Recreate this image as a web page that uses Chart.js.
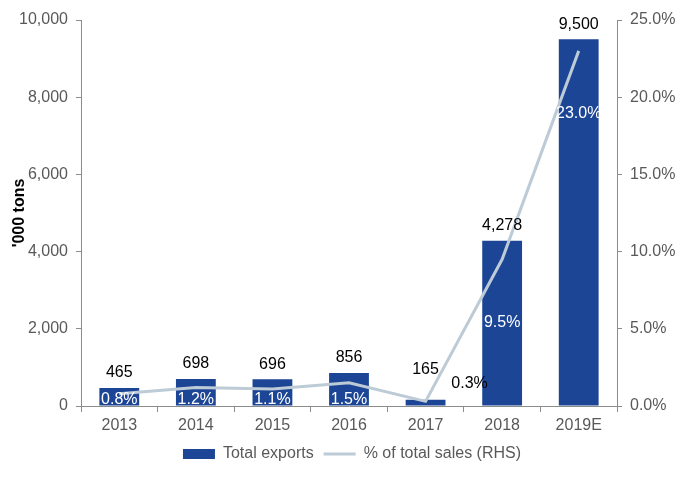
<!DOCTYPE html>
<html>
<head>
<meta charset="utf-8">
<script src="https://cdn.jsdelivr.net/npm/chart.js@4/dist/chart.umd.min.js"></script>
<style>
  html, body { margin: 0; padding: 0; background: #fff; }
  #wrap { width: 694px; height: 492px; }
</style>
</head>
<body>
<div id="wrap"><canvas id="myChart"></canvas></div>
<script>
const years = ['2013', '2014', '2015', '2016', '2017', '2018', '2019E'];
const totalExports = [465, 698, 696, 856, 165, 4278, 9500];
const pctOfSales = [0.8, 1.2, 1.1, 1.5, 0.3, 9.5, 23.0];

const barColor = '#1d4596';
const lineColor = '#bccbd6';
const tickColor = '#595959';
const axisColor = '#8c8c8c';
const fontFamily = '"Liberation Sans", Arial, sans-serif';

// draws the value labels above bars and the % labels
const labelPlugin = {
    id: 'labels',
    afterDatasetsDraw(chart) {
        const ctx = chart.ctx;
        const bars = chart.getDatasetMeta(0).data;
        const pts = chart.getDatasetMeta(1).data;
        const bottom = chart.chartArea.bottom;
        ctx.save();
        ctx.font = '16px ' + fontFamily;
        ctx.textAlign = 'center';
        ctx.textBaseline = 'middle';
        bars.forEach((bar, i) => {
            const small = bottom - bar.y < 10;
            ctx.fillStyle = '#000';
            ctx.fillText(totalExports[i].toLocaleString('en-US'), bar.x, bar.y - (small ? 30 : 15));

            const txt = pctOfSales[i].toFixed(1) + '%';
            if (small) {
                ctx.fillStyle = '#000';
                ctx.fillText(txt, bar.x + 44, bar.y - 16);
            } else {
                ctx.fillStyle = '#fff';
                const y = Math.min(pts[i].y + 63, bottom - 6);
                ctx.fillText(txt, bar.x, y);
            }
        });
        ctx.restore();
    }
};

const ctx = document.getElementById('myChart').getContext('2d');
new Chart(ctx, {
    data: {
        labels: years,
        datasets: [{
            type: 'bar',
            label: 'Total exports',
            data: totalExports,
            backgroundColor: barColor,
            barPercentage: 0.52,
            categoryPercentage: 1,
            yAxisID: 'y',
            order: 2
        }, {
            type: 'line',
            label: '% of total sales (RHS)',
            data: pctOfSales,
            borderColor: lineColor,
            backgroundColor: lineColor,
            borderWidth: 3,
            pointRadius: 0,
            tension: 0,
            yAxisID: 'y1',
            order: 1
        }]
    },
    options: {
        responsive: true,
        maintainAspectRatio: false,
        animation: false,
        layout: { padding: { top: 20, left: 10, right: 0, bottom: 20 } },
        plugins: {
            tooltip: { enabled: false },
            legend: {
                position: 'bottom',
                labels: {
                    usePointStyle: true,
                    pointStyleWidth: 32,
                    boxHeight: 10,
                    padding: 10,
                    color: tickColor,
                    font: { size: 16, family: fontFamily },
                    generateLabels(chart) {
                        return chart.data.datasets.map((ds, i) => ({
                            text: ds.label,
                            fillStyle: i === 0 ? barColor : lineColor,
                            strokeStyle: i === 0 ? barColor : lineColor,
                            lineWidth: i === 0 ? 0 : 3,
                            pointStyle: i === 0 ? 'rect' : 'line',
                            fontColor: tickColor,
                            datasetIndex: i
                        }));
                    }
                }
            }
        },
        scales: {
            x: {
                offset: true,
                afterFit(s) { s.height = 30; },
                grid: {
                    offset: true,
                    drawOnChartArea: false,
                    tickLength: 6,
                    color: axisColor
                },
                border: { color: axisColor },
                ticks: { color: tickColor, font: { size: 16, family: fontFamily }, padding: 4 }
            },
            y: {
                position: 'left',
                min: 0,
                max: 10000,
                afterFit(s) { s.width = 71; },
                ticks: {
                    stepSize: 2000,
                    color: tickColor,
                    padding: 8,
                    font: { size: 16, family: fontFamily },
                    callback: v => v.toLocaleString('en-US')
                },
                grid: { drawOnChartArea: false, tickLength: 5, color: axisColor },
                border: { color: axisColor },
                title: {
                    display: true,
                    text: "'000 tons",
                    color: '#000',
                    font: { size: 16, weight: 'bold', family: fontFamily },
                    padding: 0
                }
            },
            y1: {
                position: 'right',
                min: 0,
                max: 25,
                afterFit(s) { s.width = 77; },
                ticks: {
                    stepSize: 5,
                    color: tickColor,
                    padding: 8,
                    font: { size: 16, family: fontFamily },
                    callback: v => v.toFixed(1) + '%'
                },
                grid: { drawOnChartArea: false, tickLength: 5, color: axisColor },
                border: { color: axisColor }
            }
        }
    },
    plugins: [labelPlugin]
});
</script>
</body>
</html>
